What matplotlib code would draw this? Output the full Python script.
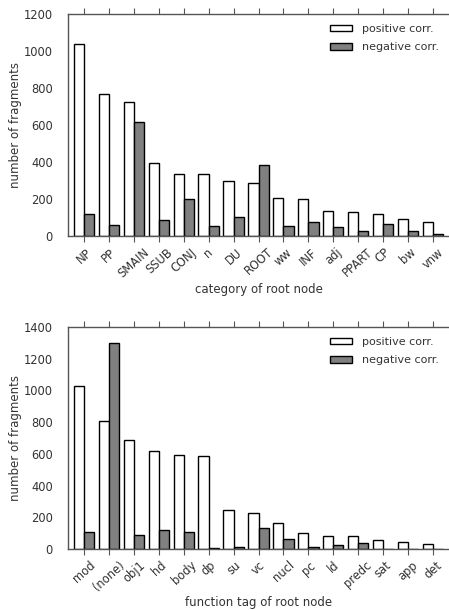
import numpy as np
import matplotlib
matplotlib.use("Agg")
import matplotlib.pyplot as plt

# top panel: category of root node
cat_labels = ["NP", "PP", "SMAIN", "SSUB", "CONJ", "n", "DU", "ROOT", "ww",
              "INF", "adj", "PPART", "CP", "bw", "vnw"]
cat_pos = [1040, 769, 726, 396, 337, 337, 295, 288, 207, 198, 133, 128, 119, 92, 77]
cat_neg = [117, 59, 618, 85, 198, 52, 104, 382, 56, 76, 49, 29, 63, 25, 11]

# bottom panel: function tag of root node
func_labels = ["mod", "(none)", "obj1", "hd", "body", "dp", "su", "vc", "nucl",
               "pc", "ld", "predc", "sat", "app", "det"]
func_pos = [1028, 807, 690, 620, 593, 584, 248, 229, 162, 99, 84, 80, 55, 42, 34]
func_neg = [107, 1299, 86, 122, 109, 4, 15, 135, 63, 13, 27, 40, 1, 0, 2]

SPINE = "#555555"
TXT = "#333333"


def draw_panel(ax, labels, pos, neg, ymax, xlabel):
    x = np.arange(len(labels))
    w = 0.41
    ax.bar(x - w / 2, pos, w, color="white", edgecolor="black", lw=1.0,
           label="positive corr.")
    ax.bar(x + w / 2, neg, w, color="#808080", edgecolor="black", lw=1.0,
           label="negative corr.")
    ax.set_xlim(-0.65, 14.65)
    ax.set_ylim(0, ymax)
    ax.set_xticks(x)
    ax.set_xticklabels(labels, rotation=42, ha="center", fontsize=8.3, color=TXT)
    ax.tick_params(axis="x", direction="out", top=True, length=4, color=SPINE,
                   pad=3)
    ax.tick_params(axis="y", length=0, labelsize=8.3, labelcolor=TXT, pad=11)
    ax.spines["right"].set_visible(False)
    for s in ("left", "top", "bottom"):
        ax.spines[s].set_color(SPINE)
        ax.spines[s].set_linewidth(1.0)
    ax.set_xlabel(xlabel, fontsize=8.5, color=TXT)
    ax.xaxis.set_label_coords(0.5, -0.213)
    ax.set_ylabel("number of fragments", fontsize=8.5, color=TXT, labelpad=1)
    ax.legend(loc="upper right", frameon=False, fontsize=8, handlelength=2.0,
              handleheight=0.5, handletextpad=0.9, labelspacing=0.75,
              labelcolor=TXT, borderaxespad=0.5)


fig = plt.figure(figsize=(4.49, 6.10), dpi=100)
ax1 = fig.add_axes([68 / 449, 1 - 236 / 610, 381 / 449, 222 / 610])
ax2 = fig.add_axes([68 / 449, 1 - 549 / 610, 381 / 449, 222 / 610])

draw_panel(ax1, cat_labels, cat_pos, cat_neg, 1200, "category of root node")
draw_panel(ax2, func_labels, func_pos, func_neg, 1400, "function tag of root node")

fig.savefig("out.png", dpi=100)
